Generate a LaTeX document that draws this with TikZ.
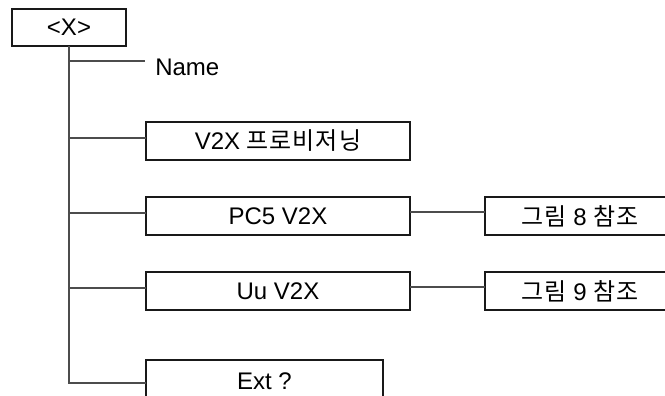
\documentclass[tikz,border=0pt]{standalone}
\usepackage{fontspec}
\setmainfont{Liberation Sans}
\newfontfamily\krf[LetterSpace=4]{Noto Sans CJK KR}
\begin{document}
\begin{tikzpicture}[x=0.75pt,y=-0.75pt,
  font=\fontsize{18}{20}\selectfont,
  box/.style={draw=black!90, line width=0.9pt, rectangle, inner sep=0pt, outer sep=0pt},
  midbox/.style={box, minimum width=198pt, minimum height=28.5pt},
  refbox/.style={box, minimum width=150pt, minimum height=28.5pt},
  conn/.style={draw=black!70, line width=0.8pt}]
\useasboundingbox (0,0) rectangle (665,396);
\clip (0,0) rectangle (665,396);
\node[box, minimum width=85.5pt, minimum height=27.75pt] (x) at (69,27.5) {<X>};
\node[anchor=west, inner sep=0pt] (name) at (155,67) {Name};
\coordinate (namept) at (145,61);
\node[midbox] (v2x) at (278,141) {V2X {\krf 프로비저닝}};
\node[midbox] (pc5) at (278,216) {PC5 V2X};
\node[midbox] (uu) at (278,291) {Uu V2X};
\node[box, minimum width=177.75pt, minimum height=34.5pt] (ext) at (264.5,383) {};
\node (exttext) at (264.5,381) {Ext ?};
\node[refbox] (r8) at (585,216) {};
\node[refbox] (r9) at (585,291) {};
\node (t8) at (580,216) {{\krf 그림} 8 {\krf 참조}};
\node (t9) at (580,291) {{\krf 그림} 9 {\krf 참조}};
\coordinate (v2xa) at ([yshift=2.25pt]v2x.west);
\coordinate (pc5a) at ([yshift=2.25pt]pc5.west);
\coordinate (uua) at ([yshift=2.25pt]uu.west);
\coordinate (pc5b) at ([yshift=3pt]pc5.east);
\coordinate (uub) at ([yshift=3pt]uu.east);
\draw[conn] (x.south) -- (x.south |- ext.west) -- (ext.west);
\draw[conn] (x.south |- namept) -- (namept);
\draw[conn] (x.south |- v2xa) -- (v2xa);
\draw[conn] (x.south |- pc5a) -- (pc5a);
\draw[conn] (x.south |- uua) -- (uua);
\draw[conn] (pc5b) -- (pc5b -| r8.west);
\draw[conn] (uub) -- (uub -| r9.west);
\end{tikzpicture}
\end{document}
